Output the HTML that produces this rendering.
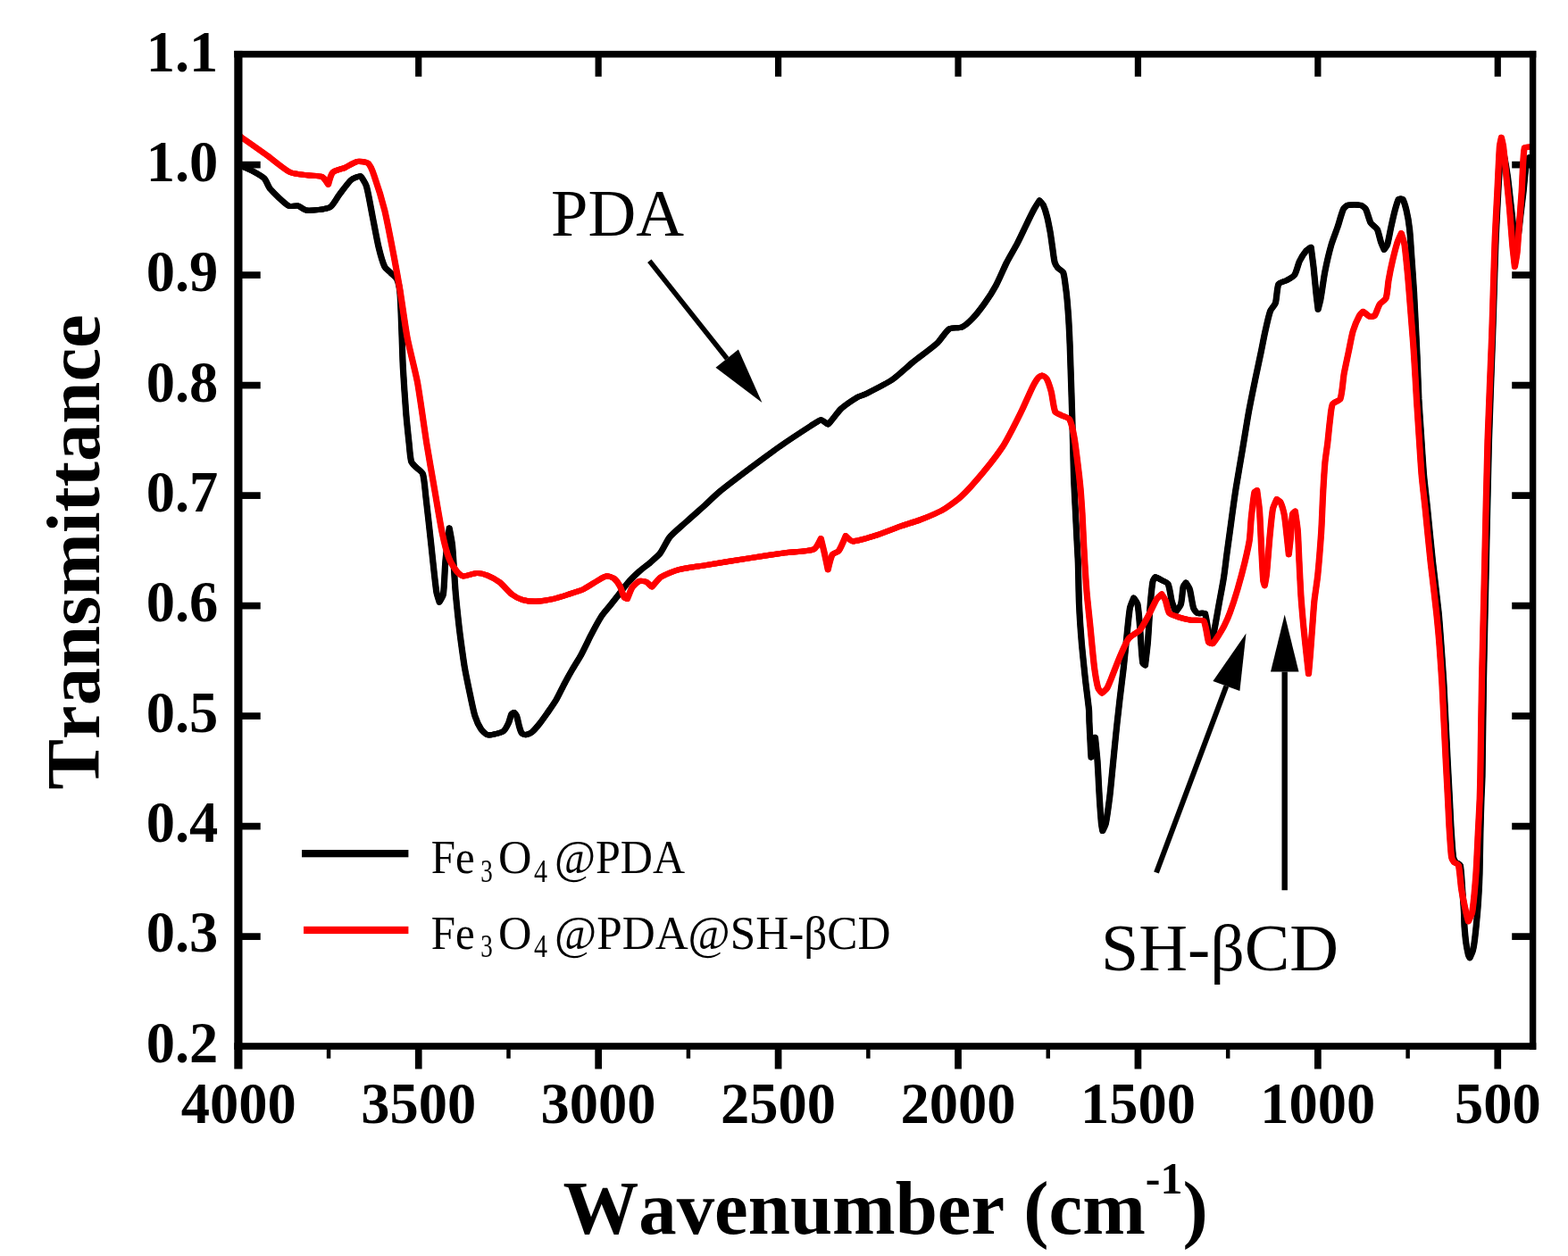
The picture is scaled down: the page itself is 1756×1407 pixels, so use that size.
<!DOCTYPE html>
<html lang="en"><head><meta charset="utf-8"><title>FTIR spectra</title>
<style>
html,body{margin:0;padding:0;background:#fff;}
body{width:1756px;height:1407px;overflow:hidden;}
svg{display:block;}
text{font-family:"Liberation Serif","DejaVu Serif",serif;fill:#000;font-kerning:none;font-variant-ligatures:none;}
.tk{font-weight:bold;font-size:64.5px;}
.ttl{font-weight:bold;font-size:84.8px;}
.ann{font-size:73px;}
.lg{font-size:53.5px;}
</style></head><body>
<svg width="1756" height="1407" viewBox="0 0 1756 1407" role="img" aria-label="FTIR transmittance spectra">
<rect x="0" y="0" width="1756" height="1407" fill="#ffffff"/>
<g fill="#000">
<rect x="464.88" y="1170" width="7.7" height="27.5"/>
<rect x="465.12" y="60" width="7.2" height="25.8"/>
<rect x="666.30" y="1170" width="7.7" height="27.5"/>
<rect x="666.55" y="60" width="7.2" height="25.8"/>
<rect x="867.73" y="1170" width="7.7" height="27.5"/>
<rect x="867.98" y="60" width="7.2" height="25.8"/>
<rect x="1069.15" y="1170" width="7.7" height="27.5"/>
<rect x="1069.40" y="60" width="7.2" height="25.8"/>
<rect x="1270.58" y="1170" width="7.7" height="27.5"/>
<rect x="1270.83" y="60" width="7.2" height="25.8"/>
<rect x="1472.00" y="1170" width="7.7" height="27.5"/>
<rect x="1472.25" y="60" width="7.2" height="25.8"/>
<rect x="1673.42" y="1170" width="7.7" height="27.5"/>
<rect x="1673.67" y="60" width="7.2" height="25.8"/>
<rect x="365.81" y="1170" width="4.5" height="15.7"/>
<rect x="567.24" y="1170" width="4.5" height="15.7"/>
<rect x="768.66" y="1170" width="4.5" height="15.7"/>
<rect x="970.09" y="1170" width="4.5" height="15.7"/>
<rect x="1171.51" y="1170" width="4.5" height="15.7"/>
<rect x="1372.94" y="1170" width="4.5" height="15.7"/>
<rect x="1574.36" y="1170" width="4.5" height="15.7"/>
<rect x="266" y="180.75" width="25.7" height="7.7"/>
<rect x="1693.2" y="180.75" width="24" height="7.7"/>
<rect x="266" y="304.25" width="25.7" height="7.7"/>
<rect x="1693.2" y="304.25" width="24" height="7.7"/>
<rect x="266" y="427.75" width="25.7" height="7.7"/>
<rect x="1693.2" y="427.75" width="24" height="7.7"/>
<rect x="266" y="551.25" width="25.7" height="7.7"/>
<rect x="1693.2" y="551.25" width="24" height="7.7"/>
<rect x="266" y="674.75" width="25.7" height="7.7"/>
<rect x="1693.2" y="674.75" width="24" height="7.7"/>
<rect x="266" y="798.25" width="25.7" height="7.7"/>
<rect x="1693.2" y="798.25" width="24" height="7.7"/>
<rect x="266" y="921.75" width="25.7" height="7.7"/>
<rect x="1693.2" y="921.75" width="24" height="7.7"/>
<rect x="266" y="1045.25" width="25.7" height="7.7"/>
<rect x="1693.2" y="1045.25" width="24" height="7.7"/>
</g>
<g fill="none" stroke="#000" stroke-width="6.2" stroke-linejoin="round">
<path transform="translate(-0.5,0)" d="M266.0,185.2C266.0,185.2 269.4,185.8 270.3,186.1C273.0,187.1 279.7,190.0 282.2,191.3C285.3,193.0 293.4,197.3 295.9,199.8C298.0,201.9 300.7,209.5 302.7,211.8C306.8,216.4 318.0,227.4 323.2,230.6C325.1,231.8 331.3,230.1 333.5,230.6C335.9,231.2 341.2,235.6 343.7,235.7C349.4,236.0 364.2,234.7 369.3,232.3C372.7,230.7 377.3,221.6 379.6,218.6C382.6,214.8 389.7,204.7 393.3,201.5C395.1,199.9 402.6,196.8 403.5,197.2C404.5,197.6 409.5,205.6 410.3,208.3C412.5,215.6 415.7,235.0 417.2,242.5C418.7,250.0 422.2,269.2 424.0,276.7C425.2,281.7 428.6,294.3 430.8,298.9C431.7,300.8 436.2,304.2 437.7,305.7C439.2,307.2 443.6,310.7 444.5,312.6C445.9,315.8 447.6,324.5 447.9,328.0C448.8,337.2 449.4,360.8 449.8,370.0C450.2,379.1 450.8,402.2 451.3,411.3C451.9,422.6 453.8,451.2 454.7,462.5C455.3,470.0 457.3,489.2 458.1,496.7C458.6,501.2 459.3,512.9 460.7,517.2C461.3,519.1 465.2,522.6 466.6,524.0C468.1,525.6 472.9,528.9 473.5,530.9C475.2,536.3 476.2,550.9 476.9,556.5C478.2,567.2 481.1,594.3 482.3,605.0C483.7,617.6 486.9,649.9 488.7,662.5C489.1,665.2 492.1,674.5 492.1,674.5C492.1,674.5 496.1,668.0 496.4,665.9C497.6,657.7 498.1,636.6 498.9,628.3C499.6,620.2 503.2,591.6 503.2,591.6C503.2,591.6 506.2,606.9 506.6,611.3C507.7,622.5 509.2,651.2 510.1,662.5C510.7,670.0 512.7,689.2 513.5,696.7C514.2,703.2 516.3,719.6 517.2,726.0C517.9,731.0 519.6,743.6 520.5,748.5C521.6,754.8 524.9,770.7 526.2,776.9C527.4,782.4 530.2,796.6 531.9,802.0C533.0,805.4 536.7,813.8 538.7,816.8C539.8,818.5 543.7,822.4 545.6,823.1C547.2,823.7 551.8,822.9 553.5,822.5C555.8,822.0 561.9,820.6 563.8,819.1C565.7,817.6 568.5,812.1 569.5,810.0C570.5,807.8 571.8,801.8 572.9,799.7C573.2,799.1 575.5,797.9 575.7,798.0C576.0,798.1 578.2,801.0 578.6,802.0C579.5,804.4 580.7,810.9 581.4,813.4C581.9,815.2 583.2,820.0 584.3,821.4C584.9,822.2 587.7,823.2 588.8,823.1C590.4,822.9 594.4,821.2 595.7,820.2C598.0,818.3 602.9,812.4 604.8,810.0C606.9,807.3 611.9,800.2 613.9,797.4C616.0,794.4 621.2,786.9 623.0,783.8C625.2,780.0 630.0,769.9 632.1,766.0C634.0,762.3 639.1,753.1 641.2,749.5C643.2,746.0 648.7,737.4 650.6,733.9C653.3,729.0 659.4,716.1 662.0,711.1C664.4,706.5 670.6,694.9 673.4,690.6C675.1,687.9 680.5,681.7 682.5,679.2C684.5,676.7 689.6,670.3 691.6,667.8C694.1,664.6 700.3,656.1 703.0,653.0C705.8,649.8 713.6,642.2 716.7,639.4C719.1,637.2 725.7,632.4 728.1,630.3C730.7,628.0 737.4,622.2 739.5,619.5C742.2,616.0 747.0,605.5 749.8,602.0C752.8,598.2 762.2,590.2 765.8,587.0C771.0,582.3 784.5,570.4 789.7,565.7C793.2,562.5 801.9,554.0 805.6,551.0C812.9,545.0 832.1,530.5 839.7,524.8C847.2,519.2 866.2,505.0 873.9,499.7C881.3,494.5 900.5,481.9 908.1,477.0C910.5,475.4 917.4,470.5 919.5,470.3C921.0,470.2 926.7,475.6 927.4,475.5C928.1,475.4 931.9,470.0 933.2,468.5C935.2,466.1 939.9,459.6 942.2,457.6C945.8,454.5 955.9,447.6 960.0,445.1C961.8,444.0 967.2,442.5 969.1,441.5C975.8,438.1 992.8,429.7 999.0,425.5C1004.5,421.8 1016.8,410.2 1022.0,406.0C1028.0,401.2 1043.8,389.7 1049.5,384.5C1052.9,381.3 1059.3,370.9 1063.2,368.3C1065.7,366.6 1074.1,367.8 1076.9,366.6C1080.0,365.3 1086.5,359.6 1088.8,357.2C1092.1,353.7 1099.7,344.0 1102.5,340.1C1105.6,335.8 1112.9,324.4 1115.4,319.7C1118.4,314.2 1124.6,299.6 1127.4,294.0C1129.8,289.2 1136.8,277.4 1139.3,272.6C1141.7,268.0 1147.3,256.0 1149.6,251.3C1151.4,247.5 1156.1,237.9 1158.1,234.2C1159.3,232.0 1164.1,224.6 1164.1,224.6C1164.1,224.6 1167.8,228.5 1168.4,229.9C1169.7,232.6 1171.9,239.8 1172.6,242.7C1173.6,246.4 1175.4,256.0 1176.1,259.8C1176.8,263.5 1178.0,273.1 1178.6,276.9C1179.2,280.7 1180.2,290.3 1181.2,294.0C1181.6,295.5 1183.6,298.8 1184.6,300.0C1185.7,301.3 1189.9,303.5 1190.6,305.1C1191.9,308.1 1192.7,316.5 1193.2,319.7C1193.7,323.1 1194.7,331.6 1195.0,335.0C1195.4,339.1 1196.2,349.7 1196.5,353.8C1197.0,361.3 1197.9,380.4 1198.2,387.9C1198.6,399.2 1199.5,427.9 1199.9,439.2C1200.1,445.6 1200.6,461.9 1200.8,468.3C1201.0,475.8 1201.5,495.0 1201.7,502.5C1201.9,510.0 1202.3,529.2 1202.6,536.7C1202.9,544.2 1203.9,563.4 1204.3,570.9C1204.7,578.4 1205.6,597.5 1206.0,605.0C1206.3,610.5 1207.1,624.5 1207.3,630.0C1207.7,640.3 1208.0,666.6 1208.5,676.9C1208.9,686.3 1210.5,710.3 1211.3,719.7C1212.1,729.1 1214.6,753.0 1215.6,762.4C1216.4,769.6 1218.8,787.8 1219.5,795.0C1219.8,798.0 1219.8,805.5 1219.9,808.5C1220.2,814.7 1221.0,830.7 1221.3,836.9C1221.4,839.4 1222.0,848.3 1222.0,848.3C1222.0,848.3 1226.5,826.0 1226.5,826.0C1226.5,826.0 1228.5,846.3 1229.0,852.0C1229.2,854.9 1229.6,862.5 1229.8,865.4C1230.1,871.7 1230.9,887.6 1231.3,893.9C1231.7,900.2 1232.8,916.1 1233.4,922.4C1233.6,924.3 1234.8,930.9 1234.8,930.9C1234.8,930.9 1238.0,924.4 1238.4,922.4C1239.7,916.2 1241.8,900.2 1242.6,893.9C1243.4,887.6 1244.9,871.7 1245.5,865.4C1246.1,859.1 1247.7,843.2 1248.3,836.9C1248.9,830.7 1250.5,814.7 1251.2,808.5C1251.8,803.0 1253.4,789.2 1254.0,783.7C1254.9,775.9 1257.4,755.9 1258.3,748.1C1259.2,740.3 1261.1,720.3 1261.9,712.5C1262.6,705.6 1264.2,688.0 1265.4,681.2C1265.9,678.6 1269.7,669.8 1269.7,669.8C1269.7,669.8 1273.6,675.2 1274.0,677.0C1275.2,683.2 1276.3,699.1 1276.8,705.4C1277.5,713.5 1278.5,734.3 1279.7,742.4C1279.8,743.3 1282.5,745.3 1282.5,745.3C1282.5,745.3 1284.9,725.3 1285.4,719.7C1286.2,710.3 1287.4,686.4 1288.2,677.0C1288.7,671.3 1290.0,656.9 1291.0,651.3C1291.2,650.0 1293.5,646.4 1293.9,646.3C1294.4,646.2 1299.5,649.0 1301.0,649.9C1302.6,650.8 1307.3,652.6 1308.1,654.2C1310.0,658.2 1311.2,669.8 1312.4,674.1C1313.1,676.7 1316.7,685.5 1316.7,685.5C1316.7,685.5 1321.8,679.2 1322.4,677.0C1323.7,672.7 1324.2,661.3 1325.2,657.0C1325.5,655.9 1328.1,652.7 1328.1,652.7C1328.1,652.7 1331.8,658.1 1332.3,659.9C1333.7,664.5 1335.1,676.6 1336.6,681.2C1337.1,682.7 1339.6,686.3 1340.9,686.9C1342.4,687.6 1349.0,686.2 1349.4,686.9C1350.5,688.9 1352.5,705.0 1354.0,710.0C1354.4,711.5 1358.0,716.0 1358.0,716.0C1358.0,716.0 1360.4,703.5 1361.0,700.0C1361.9,694.9 1364.2,682.0 1365.1,676.9C1366.3,670.3 1369.5,653.6 1370.5,647.0C1371.4,641.1 1373.2,625.9 1374.0,620.0C1375.0,612.7 1377.5,594.3 1378.5,587.0C1379.7,578.1 1382.8,555.5 1384.2,546.6C1385.7,537.2 1389.8,513.3 1391.4,503.9C1393.0,494.5 1396.8,470.6 1398.5,461.2C1399.9,453.3 1404.0,433.4 1405.6,425.6C1407.0,418.6 1410.9,401.0 1412.3,394.0C1413.4,388.9 1415.8,375.9 1417.0,370.8C1418.1,365.8 1420.9,352.9 1422.7,348.1C1423.5,346.0 1427.7,341.7 1428.4,339.5C1429.8,335.0 1430.1,321.8 1431.9,318.2C1432.8,316.5 1439.2,315.0 1441.2,313.9C1443.2,312.8 1448.5,310.1 1449.7,308.2C1451.7,305.1 1453.8,295.8 1455.4,292.5C1456.7,289.8 1460.6,283.5 1462.5,281.2C1463.5,280.0 1468.2,276.9 1468.2,276.9C1468.2,276.9 1470.5,294.7 1471.1,299.7C1471.8,305.9 1473.2,321.9 1473.9,328.1C1474.3,332.2 1476.1,346.6 1476.1,346.6C1476.1,346.6 1478.4,337.8 1478.9,335.3C1480.2,328.4 1482.5,310.8 1483.9,303.9C1485.2,297.3 1489.1,280.5 1491.0,274.0C1492.3,269.5 1496.6,258.5 1498.1,254.1C1499.6,249.7 1502.5,238.4 1504.5,234.2C1505.1,232.9 1508.1,230.2 1509.5,229.9C1512.6,229.2 1520.7,229.2 1523.8,229.9C1525.3,230.2 1528.7,232.8 1529.5,234.2C1531.3,237.4 1533.3,246.6 1535.1,249.8C1536.2,251.7 1541.3,254.9 1542.3,256.9C1543.8,259.8 1545.4,268.1 1546.5,271.2C1547.2,273.1 1550.1,279.7 1550.1,279.7C1550.1,279.7 1553.3,275.4 1553.7,274.0C1555.0,269.7 1556.9,258.5 1557.9,254.1C1558.8,250.0 1561.1,239.6 1562.2,235.6C1563.0,232.7 1565.6,224.2 1566.5,222.8C1566.8,222.4 1570.4,222.4 1570.7,222.8C1571.6,224.2 1574.3,232.7 1575.0,235.6C1576.1,240.2 1578.1,252.2 1578.6,256.9C1579.3,263.1 1580.3,279.1 1580.7,285.4C1581.4,294.8 1583.0,318.7 1583.6,328.1C1584.1,337.5 1585.2,361.4 1585.7,370.8C1586.0,377.1 1586.8,393.0 1587.1,399.3C1587.5,409.8 1588.4,436.4 1588.9,446.9C1589.4,456.3 1591.1,480.3 1591.7,489.7C1592.3,499.1 1593.8,523.0 1594.6,532.4C1595.4,541.3 1598.0,563.8 1598.9,572.7C1600.2,585.2 1603.2,617.2 1604.6,629.7C1606.0,642.2 1609.9,674.1 1611.2,686.6C1612.0,694.5 1613.4,714.8 1614.0,722.7C1614.7,732.1 1616.3,756.0 1616.9,765.4C1617.4,774.8 1618.5,798.7 1619.0,808.1C1619.5,817.5 1620.6,841.4 1621.1,850.8C1621.6,860.3 1622.9,884.6 1623.4,894.1C1623.8,901.6 1624.6,920.7 1625.1,928.2C1625.6,935.3 1626.6,953.5 1627.6,960.6C1627.8,961.8 1629.4,964.8 1630.2,965.7C1631.1,966.7 1635.0,967.9 1635.3,969.1C1636.6,974.5 1637.2,990.4 1637.7,996.4C1638.1,1002.0 1639.2,1016.4 1639.5,1022.0C1639.7,1025.7 1639.8,1035.3 1640.1,1039.0C1640.4,1042.8 1641.3,1052.4 1641.8,1056.1C1642.2,1059.1 1643.7,1066.7 1644.4,1069.7C1644.6,1070.5 1646.1,1073.1 1646.1,1073.1C1646.1,1073.1 1649.0,1066.6 1649.5,1064.6C1650.4,1060.9 1651.7,1051.4 1652.1,1047.6C1652.8,1042.0 1654.1,1027.6 1654.6,1022.0C1655.1,1016.4 1656.0,1002.0 1656.3,996.4C1656.5,992.7 1656.9,983.1 1657.0,979.4C1657.3,968.1 1657.7,939.5 1658.0,928.2C1658.2,920.7 1658.7,901.6 1659.0,894.1C1659.2,888.8 1659.9,875.3 1660.0,870.0C1660.4,846.2 1661.1,785.8 1661.5,762.0C1662.0,736.7 1663.4,672.3 1664.0,647.0C1664.8,613.1 1666.5,526.9 1667.5,493.0C1668.2,467.7 1670.7,403.3 1671.6,378.0C1672.1,364.7 1673.1,330.9 1673.5,317.6C1673.9,306.3 1674.7,277.7 1675.2,266.4C1675.7,255.2 1677.2,226.5 1677.8,215.3C1678.3,206.4 1679.5,183.8 1680.4,175.0C1680.6,173.4 1682.4,168.0 1682.4,168.0C1682.4,168.0 1684.3,173.4 1684.6,175.0C1685.6,180.1 1687.8,193.1 1688.5,198.2C1689.5,205.7 1691.5,224.8 1692.4,232.3C1693.1,238.8 1694.8,255.5 1695.8,262.0C1696.1,263.8 1698.0,270.0 1698.0,270.0C1698.0,270.0 1700.2,263.8 1700.5,262.0C1701.3,257.2 1702.4,244.8 1703.0,240.0C1703.6,234.6 1705.4,220.7 1706.0,215.3C1706.6,209.7 1707.8,195.6 1708.5,190.0C1708.8,187.3 1709.6,180.3 1710.5,178.0C1710.8,177.2 1714.0,176.0 1714.0,176.0"/>
<path transform="translate(0,0)" d="M266.0,185.2C266.0,185.2 269.4,185.8 270.3,186.1C273.0,187.1 279.7,190.0 282.2,191.3C285.3,193.0 293.4,197.3 295.9,199.8C298.0,201.9 300.7,209.5 302.7,211.8C306.8,216.4 318.0,227.4 323.2,230.6C325.1,231.8 331.3,230.1 333.5,230.6C335.9,231.2 341.2,235.6 343.7,235.7C349.4,236.0 364.2,234.7 369.3,232.3C372.7,230.7 377.3,221.6 379.6,218.6C382.6,214.8 389.7,204.7 393.3,201.5C395.1,199.9 402.6,196.8 403.5,197.2C404.5,197.6 409.5,205.6 410.3,208.3C412.5,215.6 415.7,235.0 417.2,242.5C418.7,250.0 422.2,269.2 424.0,276.7C425.2,281.7 428.6,294.3 430.8,298.9C431.7,300.8 436.2,304.2 437.7,305.7C439.2,307.2 443.6,310.7 444.5,312.6C445.9,315.8 447.6,324.5 447.9,328.0C448.8,337.2 449.4,360.8 449.8,370.0C450.2,379.1 450.8,402.2 451.3,411.3C451.9,422.6 453.8,451.2 454.7,462.5C455.3,470.0 457.3,489.2 458.1,496.7C458.6,501.2 459.3,512.9 460.7,517.2C461.3,519.1 465.2,522.6 466.6,524.0C468.1,525.6 472.9,528.9 473.5,530.9C475.2,536.3 476.2,550.9 476.9,556.5C478.2,567.2 481.1,594.3 482.3,605.0C483.7,617.6 486.9,649.9 488.7,662.5C489.1,665.2 492.1,674.5 492.1,674.5C492.1,674.5 496.1,668.0 496.4,665.9C497.6,657.7 498.1,636.6 498.9,628.3C499.6,620.2 503.2,591.6 503.2,591.6C503.2,591.6 506.2,606.9 506.6,611.3C507.7,622.5 509.2,651.2 510.1,662.5C510.7,670.0 512.7,689.2 513.5,696.7C514.2,703.2 516.3,719.6 517.2,726.0C517.9,731.0 519.6,743.6 520.5,748.5C521.6,754.8 524.9,770.7 526.2,776.9C527.4,782.4 530.2,796.6 531.9,802.0C533.0,805.4 536.7,813.8 538.7,816.8C539.8,818.5 543.7,822.4 545.6,823.1C547.2,823.7 551.8,822.9 553.5,822.5C555.8,822.0 561.9,820.6 563.8,819.1C565.7,817.6 568.5,812.1 569.5,810.0C570.5,807.8 571.8,801.8 572.9,799.7C573.2,799.1 575.5,797.9 575.7,798.0C576.0,798.1 578.2,801.0 578.6,802.0C579.5,804.4 580.7,810.9 581.4,813.4C581.9,815.2 583.2,820.0 584.3,821.4C584.9,822.2 587.7,823.2 588.8,823.1C590.4,822.9 594.4,821.2 595.7,820.2C598.0,818.3 602.9,812.4 604.8,810.0C606.9,807.3 611.9,800.2 613.9,797.4C616.0,794.4 621.2,786.9 623.0,783.8C625.2,780.0 630.0,769.9 632.1,766.0C634.0,762.3 639.1,753.1 641.2,749.5C643.2,746.0 648.7,737.4 650.6,733.9C653.3,729.0 659.4,716.1 662.0,711.1C664.4,706.5 670.6,694.9 673.4,690.6C675.1,687.9 680.5,681.7 682.5,679.2C684.5,676.7 689.6,670.3 691.6,667.8C694.1,664.6 700.3,656.1 703.0,653.0C705.8,649.8 713.6,642.2 716.7,639.4C719.1,637.2 725.7,632.4 728.1,630.3C730.7,628.0 737.4,622.2 739.5,619.5C742.2,616.0 747.0,605.5 749.8,602.0C752.8,598.2 762.2,590.2 765.8,587.0C771.0,582.3 784.5,570.4 789.7,565.7C793.2,562.5 801.9,554.0 805.6,551.0C812.9,545.0 832.1,530.5 839.7,524.8C847.2,519.2 866.2,505.0 873.9,499.7C881.3,494.5 900.5,481.9 908.1,477.0C910.5,475.4 917.4,470.5 919.5,470.3C921.0,470.2 926.7,475.6 927.4,475.5C928.1,475.4 931.9,470.0 933.2,468.5C935.2,466.1 939.9,459.6 942.2,457.6C945.8,454.5 955.9,447.6 960.0,445.1C961.8,444.0 967.2,442.5 969.1,441.5C975.8,438.1 992.8,429.7 999.0,425.5C1004.5,421.8 1016.8,410.2 1022.0,406.0C1028.0,401.2 1043.8,389.7 1049.5,384.5C1052.9,381.3 1059.3,370.9 1063.2,368.3C1065.7,366.6 1074.1,367.8 1076.9,366.6C1080.0,365.3 1086.5,359.6 1088.8,357.2C1092.1,353.7 1099.7,344.0 1102.5,340.1C1105.6,335.8 1112.9,324.4 1115.4,319.7C1118.4,314.2 1124.6,299.6 1127.4,294.0C1129.8,289.2 1136.8,277.4 1139.3,272.6C1141.7,268.0 1147.3,256.0 1149.6,251.3C1151.4,247.5 1156.1,237.9 1158.1,234.2C1159.3,232.0 1164.1,224.6 1164.1,224.6C1164.1,224.6 1167.8,228.5 1168.4,229.9C1169.7,232.6 1171.9,239.8 1172.6,242.7C1173.6,246.4 1175.4,256.0 1176.1,259.8C1176.8,263.5 1178.0,273.1 1178.6,276.9C1179.2,280.7 1180.2,290.3 1181.2,294.0C1181.6,295.5 1183.6,298.8 1184.6,300.0C1185.7,301.3 1189.9,303.5 1190.6,305.1C1191.9,308.1 1192.7,316.5 1193.2,319.7C1193.7,323.1 1194.7,331.6 1195.0,335.0C1195.4,339.1 1196.2,349.7 1196.5,353.8C1197.0,361.3 1197.9,380.4 1198.2,387.9C1198.6,399.2 1199.5,427.9 1199.9,439.2C1200.1,445.6 1200.6,461.9 1200.8,468.3C1201.0,475.8 1201.5,495.0 1201.7,502.5C1201.9,510.0 1202.3,529.2 1202.6,536.7C1202.9,544.2 1203.9,563.4 1204.3,570.9C1204.7,578.4 1205.6,597.5 1206.0,605.0C1206.3,610.5 1207.1,624.5 1207.3,630.0C1207.7,640.3 1208.0,666.6 1208.5,676.9C1208.9,686.3 1210.5,710.3 1211.3,719.7C1212.1,729.1 1214.6,753.0 1215.6,762.4C1216.4,769.6 1218.8,787.8 1219.5,795.0C1219.8,798.0 1219.8,805.5 1219.9,808.5C1220.2,814.7 1221.0,830.7 1221.3,836.9C1221.4,839.4 1222.0,848.3 1222.0,848.3C1222.0,848.3 1226.5,826.0 1226.5,826.0C1226.5,826.0 1228.5,846.3 1229.0,852.0C1229.2,854.9 1229.6,862.5 1229.8,865.4C1230.1,871.7 1230.9,887.6 1231.3,893.9C1231.7,900.2 1232.8,916.1 1233.4,922.4C1233.6,924.3 1234.8,930.9 1234.8,930.9C1234.8,930.9 1238.0,924.4 1238.4,922.4C1239.7,916.2 1241.8,900.2 1242.6,893.9C1243.4,887.6 1244.9,871.7 1245.5,865.4C1246.1,859.1 1247.7,843.2 1248.3,836.9C1248.9,830.7 1250.5,814.7 1251.2,808.5C1251.8,803.0 1253.4,789.2 1254.0,783.7C1254.9,775.9 1257.4,755.9 1258.3,748.1C1259.2,740.3 1261.1,720.3 1261.9,712.5C1262.6,705.6 1264.2,688.0 1265.4,681.2C1265.9,678.6 1269.7,669.8 1269.7,669.8C1269.7,669.8 1273.6,675.2 1274.0,677.0C1275.2,683.2 1276.3,699.1 1276.8,705.4C1277.5,713.5 1278.5,734.3 1279.7,742.4C1279.8,743.3 1282.5,745.3 1282.5,745.3C1282.5,745.3 1284.9,725.3 1285.4,719.7C1286.2,710.3 1287.4,686.4 1288.2,677.0C1288.7,671.3 1290.0,656.9 1291.0,651.3C1291.2,650.0 1293.5,646.4 1293.9,646.3C1294.4,646.2 1299.5,649.0 1301.0,649.9C1302.6,650.8 1307.3,652.6 1308.1,654.2C1310.0,658.2 1311.2,669.8 1312.4,674.1C1313.1,676.7 1316.7,685.5 1316.7,685.5C1316.7,685.5 1321.8,679.2 1322.4,677.0C1323.7,672.7 1324.2,661.3 1325.2,657.0C1325.5,655.9 1328.1,652.7 1328.1,652.7C1328.1,652.7 1331.8,658.1 1332.3,659.9C1333.7,664.5 1335.1,676.6 1336.6,681.2C1337.1,682.7 1339.6,686.3 1340.9,686.9C1342.4,687.6 1349.0,686.2 1349.4,686.9C1350.5,688.9 1352.5,705.0 1354.0,710.0C1354.4,711.5 1358.0,716.0 1358.0,716.0C1358.0,716.0 1360.4,703.5 1361.0,700.0C1361.9,694.9 1364.2,682.0 1365.1,676.9C1366.3,670.3 1369.5,653.6 1370.5,647.0C1371.4,641.1 1373.2,625.9 1374.0,620.0C1375.0,612.7 1377.5,594.3 1378.5,587.0C1379.7,578.1 1382.8,555.5 1384.2,546.6C1385.7,537.2 1389.8,513.3 1391.4,503.9C1393.0,494.5 1396.8,470.6 1398.5,461.2C1399.9,453.3 1404.0,433.4 1405.6,425.6C1407.0,418.6 1410.9,401.0 1412.3,394.0C1413.4,388.9 1415.8,375.9 1417.0,370.8C1418.1,365.8 1420.9,352.9 1422.7,348.1C1423.5,346.0 1427.7,341.7 1428.4,339.5C1429.8,335.0 1430.1,321.8 1431.9,318.2C1432.8,316.5 1439.2,315.0 1441.2,313.9C1443.2,312.8 1448.5,310.1 1449.7,308.2C1451.7,305.1 1453.8,295.8 1455.4,292.5C1456.7,289.8 1460.6,283.5 1462.5,281.2C1463.5,280.0 1468.2,276.9 1468.2,276.9C1468.2,276.9 1470.5,294.7 1471.1,299.7C1471.8,305.9 1473.2,321.9 1473.9,328.1C1474.3,332.2 1476.1,346.6 1476.1,346.6C1476.1,346.6 1478.4,337.8 1478.9,335.3C1480.2,328.4 1482.5,310.8 1483.9,303.9C1485.2,297.3 1489.1,280.5 1491.0,274.0C1492.3,269.5 1496.6,258.5 1498.1,254.1C1499.6,249.7 1502.5,238.4 1504.5,234.2C1505.1,232.9 1508.1,230.2 1509.5,229.9C1512.6,229.2 1520.7,229.2 1523.8,229.9C1525.3,230.2 1528.7,232.8 1529.5,234.2C1531.3,237.4 1533.3,246.6 1535.1,249.8C1536.2,251.7 1541.3,254.9 1542.3,256.9C1543.8,259.8 1545.4,268.1 1546.5,271.2C1547.2,273.1 1550.1,279.7 1550.1,279.7C1550.1,279.7 1553.3,275.4 1553.7,274.0C1555.0,269.7 1556.9,258.5 1557.9,254.1C1558.8,250.0 1561.1,239.6 1562.2,235.6C1563.0,232.7 1565.6,224.2 1566.5,222.8C1566.8,222.4 1570.4,222.4 1570.7,222.8C1571.6,224.2 1574.3,232.7 1575.0,235.6C1576.1,240.2 1578.1,252.2 1578.6,256.9C1579.3,263.1 1580.3,279.1 1580.7,285.4C1581.4,294.8 1583.0,318.7 1583.6,328.1C1584.1,337.5 1585.2,361.4 1585.7,370.8C1586.0,377.1 1586.8,393.0 1587.1,399.3C1587.5,409.8 1588.4,436.4 1588.9,446.9C1589.4,456.3 1591.1,480.3 1591.7,489.7C1592.3,499.1 1593.8,523.0 1594.6,532.4C1595.4,541.3 1598.0,563.8 1598.9,572.7C1600.2,585.2 1603.2,617.2 1604.6,629.7C1606.0,642.2 1609.9,674.1 1611.2,686.6C1612.0,694.5 1613.4,714.8 1614.0,722.7C1614.7,732.1 1616.3,756.0 1616.9,765.4C1617.4,774.8 1618.5,798.7 1619.0,808.1C1619.5,817.5 1620.6,841.4 1621.1,850.8C1621.6,860.3 1622.9,884.6 1623.4,894.1C1623.8,901.6 1624.6,920.7 1625.1,928.2C1625.6,935.3 1626.6,953.5 1627.6,960.6C1627.8,961.8 1629.4,964.8 1630.2,965.7C1631.1,966.7 1635.0,967.9 1635.3,969.1C1636.6,974.5 1637.2,990.4 1637.7,996.4C1638.1,1002.0 1639.2,1016.4 1639.5,1022.0C1639.7,1025.7 1639.8,1035.3 1640.1,1039.0C1640.4,1042.8 1641.3,1052.4 1641.8,1056.1C1642.2,1059.1 1643.7,1066.7 1644.4,1069.7C1644.6,1070.5 1646.1,1073.1 1646.1,1073.1C1646.1,1073.1 1649.0,1066.6 1649.5,1064.6C1650.4,1060.9 1651.7,1051.4 1652.1,1047.6C1652.8,1042.0 1654.1,1027.6 1654.6,1022.0C1655.1,1016.4 1656.0,1002.0 1656.3,996.4C1656.5,992.7 1656.9,983.1 1657.0,979.4C1657.3,968.1 1657.7,939.5 1658.0,928.2C1658.2,920.7 1658.7,901.6 1659.0,894.1C1659.2,888.8 1659.9,875.3 1660.0,870.0C1660.4,846.2 1661.1,785.8 1661.5,762.0C1662.0,736.7 1663.4,672.3 1664.0,647.0C1664.8,613.1 1666.5,526.9 1667.5,493.0C1668.2,467.7 1670.7,403.3 1671.6,378.0C1672.1,364.7 1673.1,330.9 1673.5,317.6C1673.9,306.3 1674.7,277.7 1675.2,266.4C1675.7,255.2 1677.2,226.5 1677.8,215.3C1678.3,206.4 1679.5,183.8 1680.4,175.0C1680.6,173.4 1682.4,168.0 1682.4,168.0C1682.4,168.0 1684.3,173.4 1684.6,175.0C1685.6,180.1 1687.8,193.1 1688.5,198.2C1689.5,205.7 1691.5,224.8 1692.4,232.3C1693.1,238.8 1694.8,255.5 1695.8,262.0C1696.1,263.8 1698.0,270.0 1698.0,270.0C1698.0,270.0 1700.2,263.8 1700.5,262.0C1701.3,257.2 1702.4,244.8 1703.0,240.0C1703.6,234.6 1705.4,220.7 1706.0,215.3C1706.6,209.7 1707.8,195.6 1708.5,190.0C1708.8,187.3 1709.6,180.3 1710.5,178.0C1710.8,177.2 1714.0,176.0 1714.0,176.0"/>
<path transform="translate(0.5,0)" d="M266.0,185.2C266.0,185.2 269.4,185.8 270.3,186.1C273.0,187.1 279.7,190.0 282.2,191.3C285.3,193.0 293.4,197.3 295.9,199.8C298.0,201.9 300.7,209.5 302.7,211.8C306.8,216.4 318.0,227.4 323.2,230.6C325.1,231.8 331.3,230.1 333.5,230.6C335.9,231.2 341.2,235.6 343.7,235.7C349.4,236.0 364.2,234.7 369.3,232.3C372.7,230.7 377.3,221.6 379.6,218.6C382.6,214.8 389.7,204.7 393.3,201.5C395.1,199.9 402.6,196.8 403.5,197.2C404.5,197.6 409.5,205.6 410.3,208.3C412.5,215.6 415.7,235.0 417.2,242.5C418.7,250.0 422.2,269.2 424.0,276.7C425.2,281.7 428.6,294.3 430.8,298.9C431.7,300.8 436.2,304.2 437.7,305.7C439.2,307.2 443.6,310.7 444.5,312.6C445.9,315.8 447.6,324.5 447.9,328.0C448.8,337.2 449.4,360.8 449.8,370.0C450.2,379.1 450.8,402.2 451.3,411.3C451.9,422.6 453.8,451.2 454.7,462.5C455.3,470.0 457.3,489.2 458.1,496.7C458.6,501.2 459.3,512.9 460.7,517.2C461.3,519.1 465.2,522.6 466.6,524.0C468.1,525.6 472.9,528.9 473.5,530.9C475.2,536.3 476.2,550.9 476.9,556.5C478.2,567.2 481.1,594.3 482.3,605.0C483.7,617.6 486.9,649.9 488.7,662.5C489.1,665.2 492.1,674.5 492.1,674.5C492.1,674.5 496.1,668.0 496.4,665.9C497.6,657.7 498.1,636.6 498.9,628.3C499.6,620.2 503.2,591.6 503.2,591.6C503.2,591.6 506.2,606.9 506.6,611.3C507.7,622.5 509.2,651.2 510.1,662.5C510.7,670.0 512.7,689.2 513.5,696.7C514.2,703.2 516.3,719.6 517.2,726.0C517.9,731.0 519.6,743.6 520.5,748.5C521.6,754.8 524.9,770.7 526.2,776.9C527.4,782.4 530.2,796.6 531.9,802.0C533.0,805.4 536.7,813.8 538.7,816.8C539.8,818.5 543.7,822.4 545.6,823.1C547.2,823.7 551.8,822.9 553.5,822.5C555.8,822.0 561.9,820.6 563.8,819.1C565.7,817.6 568.5,812.1 569.5,810.0C570.5,807.8 571.8,801.8 572.9,799.7C573.2,799.1 575.5,797.9 575.7,798.0C576.0,798.1 578.2,801.0 578.6,802.0C579.5,804.4 580.7,810.9 581.4,813.4C581.9,815.2 583.2,820.0 584.3,821.4C584.9,822.2 587.7,823.2 588.8,823.1C590.4,822.9 594.4,821.2 595.7,820.2C598.0,818.3 602.9,812.4 604.8,810.0C606.9,807.3 611.9,800.2 613.9,797.4C616.0,794.4 621.2,786.9 623.0,783.8C625.2,780.0 630.0,769.9 632.1,766.0C634.0,762.3 639.1,753.1 641.2,749.5C643.2,746.0 648.7,737.4 650.6,733.9C653.3,729.0 659.4,716.1 662.0,711.1C664.4,706.5 670.6,694.9 673.4,690.6C675.1,687.9 680.5,681.7 682.5,679.2C684.5,676.7 689.6,670.3 691.6,667.8C694.1,664.6 700.3,656.1 703.0,653.0C705.8,649.8 713.6,642.2 716.7,639.4C719.1,637.2 725.7,632.4 728.1,630.3C730.7,628.0 737.4,622.2 739.5,619.5C742.2,616.0 747.0,605.5 749.8,602.0C752.8,598.2 762.2,590.2 765.8,587.0C771.0,582.3 784.5,570.4 789.7,565.7C793.2,562.5 801.9,554.0 805.6,551.0C812.9,545.0 832.1,530.5 839.7,524.8C847.2,519.2 866.2,505.0 873.9,499.7C881.3,494.5 900.5,481.9 908.1,477.0C910.5,475.4 917.4,470.5 919.5,470.3C921.0,470.2 926.7,475.6 927.4,475.5C928.1,475.4 931.9,470.0 933.2,468.5C935.2,466.1 939.9,459.6 942.2,457.6C945.8,454.5 955.9,447.6 960.0,445.1C961.8,444.0 967.2,442.5 969.1,441.5C975.8,438.1 992.8,429.7 999.0,425.5C1004.5,421.8 1016.8,410.2 1022.0,406.0C1028.0,401.2 1043.8,389.7 1049.5,384.5C1052.9,381.3 1059.3,370.9 1063.2,368.3C1065.7,366.6 1074.1,367.8 1076.9,366.6C1080.0,365.3 1086.5,359.6 1088.8,357.2C1092.1,353.7 1099.7,344.0 1102.5,340.1C1105.6,335.8 1112.9,324.4 1115.4,319.7C1118.4,314.2 1124.6,299.6 1127.4,294.0C1129.8,289.2 1136.8,277.4 1139.3,272.6C1141.7,268.0 1147.3,256.0 1149.6,251.3C1151.4,247.5 1156.1,237.9 1158.1,234.2C1159.3,232.0 1164.1,224.6 1164.1,224.6C1164.1,224.6 1167.8,228.5 1168.4,229.9C1169.7,232.6 1171.9,239.8 1172.6,242.7C1173.6,246.4 1175.4,256.0 1176.1,259.8C1176.8,263.5 1178.0,273.1 1178.6,276.9C1179.2,280.7 1180.2,290.3 1181.2,294.0C1181.6,295.5 1183.6,298.8 1184.6,300.0C1185.7,301.3 1189.9,303.5 1190.6,305.1C1191.9,308.1 1192.7,316.5 1193.2,319.7C1193.7,323.1 1194.7,331.6 1195.0,335.0C1195.4,339.1 1196.2,349.7 1196.5,353.8C1197.0,361.3 1197.9,380.4 1198.2,387.9C1198.6,399.2 1199.5,427.9 1199.9,439.2C1200.1,445.6 1200.6,461.9 1200.8,468.3C1201.0,475.8 1201.5,495.0 1201.7,502.5C1201.9,510.0 1202.3,529.2 1202.6,536.7C1202.9,544.2 1203.9,563.4 1204.3,570.9C1204.7,578.4 1205.6,597.5 1206.0,605.0C1206.3,610.5 1207.1,624.5 1207.3,630.0C1207.7,640.3 1208.0,666.6 1208.5,676.9C1208.9,686.3 1210.5,710.3 1211.3,719.7C1212.1,729.1 1214.6,753.0 1215.6,762.4C1216.4,769.6 1218.8,787.8 1219.5,795.0C1219.8,798.0 1219.8,805.5 1219.9,808.5C1220.2,814.7 1221.0,830.7 1221.3,836.9C1221.4,839.4 1222.0,848.3 1222.0,848.3C1222.0,848.3 1226.5,826.0 1226.5,826.0C1226.5,826.0 1228.5,846.3 1229.0,852.0C1229.2,854.9 1229.6,862.5 1229.8,865.4C1230.1,871.7 1230.9,887.6 1231.3,893.9C1231.7,900.2 1232.8,916.1 1233.4,922.4C1233.6,924.3 1234.8,930.9 1234.8,930.9C1234.8,930.9 1238.0,924.4 1238.4,922.4C1239.7,916.2 1241.8,900.2 1242.6,893.9C1243.4,887.6 1244.9,871.7 1245.5,865.4C1246.1,859.1 1247.7,843.2 1248.3,836.9C1248.9,830.7 1250.5,814.7 1251.2,808.5C1251.8,803.0 1253.4,789.2 1254.0,783.7C1254.9,775.9 1257.4,755.9 1258.3,748.1C1259.2,740.3 1261.1,720.3 1261.9,712.5C1262.6,705.6 1264.2,688.0 1265.4,681.2C1265.9,678.6 1269.7,669.8 1269.7,669.8C1269.7,669.8 1273.6,675.2 1274.0,677.0C1275.2,683.2 1276.3,699.1 1276.8,705.4C1277.5,713.5 1278.5,734.3 1279.7,742.4C1279.8,743.3 1282.5,745.3 1282.5,745.3C1282.5,745.3 1284.9,725.3 1285.4,719.7C1286.2,710.3 1287.4,686.4 1288.2,677.0C1288.7,671.3 1290.0,656.9 1291.0,651.3C1291.2,650.0 1293.5,646.4 1293.9,646.3C1294.4,646.2 1299.5,649.0 1301.0,649.9C1302.6,650.8 1307.3,652.6 1308.1,654.2C1310.0,658.2 1311.2,669.8 1312.4,674.1C1313.1,676.7 1316.7,685.5 1316.7,685.5C1316.7,685.5 1321.8,679.2 1322.4,677.0C1323.7,672.7 1324.2,661.3 1325.2,657.0C1325.5,655.9 1328.1,652.7 1328.1,652.7C1328.1,652.7 1331.8,658.1 1332.3,659.9C1333.7,664.5 1335.1,676.6 1336.6,681.2C1337.1,682.7 1339.6,686.3 1340.9,686.9C1342.4,687.6 1349.0,686.2 1349.4,686.9C1350.5,688.9 1352.5,705.0 1354.0,710.0C1354.4,711.5 1358.0,716.0 1358.0,716.0C1358.0,716.0 1360.4,703.5 1361.0,700.0C1361.9,694.9 1364.2,682.0 1365.1,676.9C1366.3,670.3 1369.5,653.6 1370.5,647.0C1371.4,641.1 1373.2,625.9 1374.0,620.0C1375.0,612.7 1377.5,594.3 1378.5,587.0C1379.7,578.1 1382.8,555.5 1384.2,546.6C1385.7,537.2 1389.8,513.3 1391.4,503.9C1393.0,494.5 1396.8,470.6 1398.5,461.2C1399.9,453.3 1404.0,433.4 1405.6,425.6C1407.0,418.6 1410.9,401.0 1412.3,394.0C1413.4,388.9 1415.8,375.9 1417.0,370.8C1418.1,365.8 1420.9,352.9 1422.7,348.1C1423.5,346.0 1427.7,341.7 1428.4,339.5C1429.8,335.0 1430.1,321.8 1431.9,318.2C1432.8,316.5 1439.2,315.0 1441.2,313.9C1443.2,312.8 1448.5,310.1 1449.7,308.2C1451.7,305.1 1453.8,295.8 1455.4,292.5C1456.7,289.8 1460.6,283.5 1462.5,281.2C1463.5,280.0 1468.2,276.9 1468.2,276.9C1468.2,276.9 1470.5,294.7 1471.1,299.7C1471.8,305.9 1473.2,321.9 1473.9,328.1C1474.3,332.2 1476.1,346.6 1476.1,346.6C1476.1,346.6 1478.4,337.8 1478.9,335.3C1480.2,328.4 1482.5,310.8 1483.9,303.9C1485.2,297.3 1489.1,280.5 1491.0,274.0C1492.3,269.5 1496.6,258.5 1498.1,254.1C1499.6,249.7 1502.5,238.4 1504.5,234.2C1505.1,232.9 1508.1,230.2 1509.5,229.9C1512.6,229.2 1520.7,229.2 1523.8,229.9C1525.3,230.2 1528.7,232.8 1529.5,234.2C1531.3,237.4 1533.3,246.6 1535.1,249.8C1536.2,251.7 1541.3,254.9 1542.3,256.9C1543.8,259.8 1545.4,268.1 1546.5,271.2C1547.2,273.1 1550.1,279.7 1550.1,279.7C1550.1,279.7 1553.3,275.4 1553.7,274.0C1555.0,269.7 1556.9,258.5 1557.9,254.1C1558.8,250.0 1561.1,239.6 1562.2,235.6C1563.0,232.7 1565.6,224.2 1566.5,222.8C1566.8,222.4 1570.4,222.4 1570.7,222.8C1571.6,224.2 1574.3,232.7 1575.0,235.6C1576.1,240.2 1578.1,252.2 1578.6,256.9C1579.3,263.1 1580.3,279.1 1580.7,285.4C1581.4,294.8 1583.0,318.7 1583.6,328.1C1584.1,337.5 1585.2,361.4 1585.7,370.8C1586.0,377.1 1586.8,393.0 1587.1,399.3C1587.5,409.8 1588.4,436.4 1588.9,446.9C1589.4,456.3 1591.1,480.3 1591.7,489.7C1592.3,499.1 1593.8,523.0 1594.6,532.4C1595.4,541.3 1598.0,563.8 1598.9,572.7C1600.2,585.2 1603.2,617.2 1604.6,629.7C1606.0,642.2 1609.9,674.1 1611.2,686.6C1612.0,694.5 1613.4,714.8 1614.0,722.7C1614.7,732.1 1616.3,756.0 1616.9,765.4C1617.4,774.8 1618.5,798.7 1619.0,808.1C1619.5,817.5 1620.6,841.4 1621.1,850.8C1621.6,860.3 1622.9,884.6 1623.4,894.1C1623.8,901.6 1624.6,920.7 1625.1,928.2C1625.6,935.3 1626.6,953.5 1627.6,960.6C1627.8,961.8 1629.4,964.8 1630.2,965.7C1631.1,966.7 1635.0,967.9 1635.3,969.1C1636.6,974.5 1637.2,990.4 1637.7,996.4C1638.1,1002.0 1639.2,1016.4 1639.5,1022.0C1639.7,1025.7 1639.8,1035.3 1640.1,1039.0C1640.4,1042.8 1641.3,1052.4 1641.8,1056.1C1642.2,1059.1 1643.7,1066.7 1644.4,1069.7C1644.6,1070.5 1646.1,1073.1 1646.1,1073.1C1646.1,1073.1 1649.0,1066.6 1649.5,1064.6C1650.4,1060.9 1651.7,1051.4 1652.1,1047.6C1652.8,1042.0 1654.1,1027.6 1654.6,1022.0C1655.1,1016.4 1656.0,1002.0 1656.3,996.4C1656.5,992.7 1656.9,983.1 1657.0,979.4C1657.3,968.1 1657.7,939.5 1658.0,928.2C1658.2,920.7 1658.7,901.6 1659.0,894.1C1659.2,888.8 1659.9,875.3 1660.0,870.0C1660.4,846.2 1661.1,785.8 1661.5,762.0C1662.0,736.7 1663.4,672.3 1664.0,647.0C1664.8,613.1 1666.5,526.9 1667.5,493.0C1668.2,467.7 1670.7,403.3 1671.6,378.0C1672.1,364.7 1673.1,330.9 1673.5,317.6C1673.9,306.3 1674.7,277.7 1675.2,266.4C1675.7,255.2 1677.2,226.5 1677.8,215.3C1678.3,206.4 1679.5,183.8 1680.4,175.0C1680.6,173.4 1682.4,168.0 1682.4,168.0C1682.4,168.0 1684.3,173.4 1684.6,175.0C1685.6,180.1 1687.8,193.1 1688.5,198.2C1689.5,205.7 1691.5,224.8 1692.4,232.3C1693.1,238.8 1694.8,255.5 1695.8,262.0C1696.1,263.8 1698.0,270.0 1698.0,270.0C1698.0,270.0 1700.2,263.8 1700.5,262.0C1701.3,257.2 1702.4,244.8 1703.0,240.0C1703.6,234.6 1705.4,220.7 1706.0,215.3C1706.6,209.7 1707.8,195.6 1708.5,190.0C1708.8,187.3 1709.6,180.3 1710.5,178.0C1710.8,177.2 1714.0,176.0 1714.0,176.0"/>
</g>
<g fill="none" stroke="#ff0000" stroke-width="6.2" stroke-linejoin="round">
<path transform="translate(-0.5,0)" d="M266.0,151.0C266.0,151.0 269.4,153.1 270.3,153.7C276.7,158.2 293.0,169.6 299.3,174.2C305.0,178.3 318.6,190.0 324.9,193.0C329.0,195.0 340.9,195.8 345.4,196.4C348.8,196.9 357.7,196.7 360.8,198.1C363.0,199.1 367.6,206.6 367.6,206.6C367.6,206.6 370.6,195.2 372.8,193.0C375.0,190.8 383.5,189.1 386.4,187.8C389.5,186.4 396.7,181.7 400.0,181.0C402.6,180.5 410.2,181.3 412.0,182.7C414.2,184.5 417.8,193.2 418.9,196.4C421.9,204.9 428.6,226.9 430.8,235.7C433.5,246.9 438.9,275.6 441.1,286.9C442.7,295.2 446.5,316.2 447.9,324.5C449.9,336.5 454.0,367.2 456.3,379.2C458.4,390.1 465.5,417.4 467.5,428.3C470.2,443.3 475.4,481.7 477.8,496.7C479.6,508.0 484.6,536.7 486.6,548.0C488.5,558.8 493.0,586.3 495.2,597.0C496.5,603.2 500.3,619.0 502.6,624.9C504.0,628.6 509.4,637.2 511.8,640.3C513.0,641.8 516.8,645.3 518.6,645.4C521.9,645.7 530.5,642.1 534.0,642.0C536.7,641.9 543.4,643.6 545.9,644.6C549.1,645.9 556.9,650.2 559.6,652.3C563.0,654.9 569.9,663.3 573.3,665.9C575.6,667.7 582.4,671.1 585.2,671.9C588.5,672.8 597.2,673.7 600.6,673.6C604.8,673.5 615.3,671.9 619.4,671.0C623.2,670.2 632.8,667.1 636.5,665.9C640.3,664.7 650.0,661.7 653.6,660.0C657.2,658.3 665.6,652.6 669.0,650.6C671.2,649.4 676.7,645.7 679.2,645.4C681.1,645.1 686.2,646.8 687.7,648.0C689.7,649.6 693.4,655.1 694.6,657.4C695.9,659.8 697.6,666.6 699.0,669.0C699.4,669.8 702.4,671.1 702.5,671.0C702.7,670.8 706.3,660.6 708.0,658.0C709.3,656.1 713.9,651.8 716.0,651.0C717.6,650.4 722.4,651.3 724.0,652.0C725.6,652.8 729.6,657.6 730.0,657.5C730.7,657.3 737.3,648.3 740.0,646.5C744.0,643.9 755.2,639.4 759.8,638.2C766.2,636.5 783.1,634.3 789.7,633.2C800.7,631.4 828.5,626.9 839.5,625.2C848.3,623.8 870.6,620.5 879.4,619.3C886.4,618.3 905.1,617.8 911.3,615.3C914.1,614.2 919.3,603.3 919.3,603.3C919.3,603.3 922.4,615.8 923.2,619.3C924.1,623.4 927.2,638.2 927.2,638.2C927.2,638.2 930.3,624.6 932.2,621.2C933.1,619.7 938.2,618.7 939.2,617.3C941.6,613.9 947.2,600.3 947.2,600.3C947.2,600.3 953.1,606.3 955.1,606.3C960.1,606.3 973.9,601.9 979.1,600.3C985.8,598.2 1002.4,591.7 1009.0,589.4C1013.6,587.8 1025.4,584.2 1030.0,582.5C1033.8,581.1 1043.4,577.2 1047.1,575.5C1049.7,574.3 1056.3,571.1 1058.7,569.5C1062.9,566.7 1073.3,559.2 1076.9,555.8C1082.3,550.7 1094.9,536.4 1099.7,530.7C1105.0,524.4 1117.9,507.9 1122.5,501.1C1125.4,496.8 1131.5,485.2 1133.9,480.6C1136.5,475.6 1142.9,462.9 1145.3,457.8C1147.9,452.3 1154.0,438.2 1156.7,432.8C1157.8,430.7 1160.9,425.3 1162.4,423.5C1163.2,422.6 1166.1,420.5 1166.9,420.5C1167.8,420.5 1171.3,422.8 1172.0,424.0C1173.7,426.9 1176.3,435.2 1177.2,438.5C1178.5,443.4 1179.8,456.9 1181.7,461.3C1182.3,462.8 1187.1,464.4 1188.6,465.2C1190.6,466.3 1196.6,467.9 1197.7,469.8C1199.9,473.6 1202.2,485.2 1203.0,489.7C1204.2,495.9 1206.0,511.9 1206.8,518.2C1207.6,524.5 1209.4,540.4 1210.0,546.7C1210.6,552.9 1211.6,568.8 1212.0,575.0C1212.5,583.1 1213.3,603.9 1213.8,612.0C1214.4,623.2 1216.1,651.6 1217.0,662.7C1217.8,672.1 1220.4,696.0 1221.3,705.4C1222.2,714.8 1224.4,738.7 1225.6,748.1C1226.3,753.2 1228.3,766.0 1229.8,770.9C1230.2,772.4 1234.0,776.6 1234.1,776.6C1234.2,776.6 1238.9,772.4 1239.8,770.9C1241.8,767.3 1245.4,757.6 1246.9,753.8C1248.8,749.1 1253.4,737.1 1255.5,732.5C1257.2,728.7 1261.4,718.7 1264.0,715.4C1266.2,712.6 1274.5,708.1 1276.8,705.4C1279.6,702.1 1284.7,692.1 1286.8,688.3C1288.8,684.6 1293.1,674.8 1295.3,671.3C1296.2,669.8 1301.0,665.6 1301.0,665.6C1301.0,665.6 1304.6,671.0 1305.3,672.7C1306.5,675.7 1307.7,684.5 1309.6,686.9C1311.0,688.7 1317.2,690.5 1319.5,691.2C1322.6,692.2 1330.6,694.2 1333.8,694.7C1336.9,695.2 1346.5,694.5 1348.0,695.5C1349.1,696.2 1350.3,703.2 1350.8,705.4C1351.5,708.5 1352.7,717.5 1353.7,719.7C1354.0,720.4 1357.6,721.4 1358.0,721.1C1359.2,720.2 1363.6,713.4 1365.1,711.1C1366.5,708.9 1369.9,703.3 1371.0,701.0C1372.6,697.8 1376.3,689.4 1377.5,686.0C1379.6,680.3 1384.3,665.8 1386.0,660.0C1387.9,653.4 1392.4,636.6 1394.0,630.0C1395.3,624.5 1398.5,610.6 1399.3,605.0C1400.1,599.5 1400.7,585.3 1401.3,579.8C1402.0,573.5 1403.6,557.6 1404.9,551.4C1405.1,550.6 1407.7,549.2 1407.7,549.2C1407.7,549.2 1410.2,567.5 1410.6,572.7C1411.3,582.1 1412.2,606.0 1412.7,615.4C1413.1,623.2 1414.1,643.2 1414.8,651.0C1414.9,652.1 1416.3,656.0 1416.3,656.0C1416.3,656.0 1418.1,646.6 1418.4,643.9C1419.4,634.5 1421.1,610.6 1422.0,601.2C1422.7,594.3 1424.2,576.7 1425.5,569.9C1426.0,567.4 1429.8,559.2 1429.8,559.2C1429.8,559.2 1433.6,561.6 1434.1,562.7C1435.5,565.7 1437.7,573.8 1438.3,577.0C1439.3,582.3 1440.6,595.9 1441.2,601.2C1441.7,605.6 1443.3,621.1 1443.3,621.1C1443.3,621.1 1445.1,605.6 1445.5,601.2C1446.0,595.6 1446.6,581.2 1447.6,575.6C1447.8,574.7 1450.4,572.7 1450.4,572.7C1450.4,572.7 1452.9,589.4 1453.3,594.1C1453.9,601.9 1454.6,621.9 1455.0,629.7C1455.4,637.5 1456.3,657.5 1456.8,665.3C1457.3,673.1 1459.0,693.0 1459.7,700.8C1460.3,707.1 1462.0,723.0 1462.7,729.3C1463.3,735.0 1465.5,755.0 1465.5,755.0C1465.5,755.0 1467.3,735.0 1467.7,729.3C1468.2,723.0 1469.3,707.1 1469.8,700.8C1470.3,694.6 1471.3,678.6 1472.0,672.4C1472.7,666.1 1475.2,650.2 1475.8,643.9C1476.8,633.6 1478.9,607.3 1479.6,597.0C1480.3,586.7 1481.2,560.3 1481.8,550.0C1482.2,543.0 1483.3,525.1 1483.9,518.1C1484.3,513.4 1486.1,501.5 1486.7,496.8C1487.4,490.8 1488.8,475.6 1489.6,469.7C1490.1,465.9 1490.7,455.9 1492.4,452.6C1493.4,450.6 1500.2,449.0 1501.0,446.9C1503.1,441.2 1504.1,424.7 1505.2,418.5C1506.2,413.1 1509.2,399.4 1510.3,394.0C1511.4,388.9 1513.7,375.8 1515.2,370.8C1516.4,366.9 1520.4,357.4 1522.3,353.8C1523.0,352.5 1526.2,348.8 1526.6,348.8C1527.1,348.8 1531.8,353.8 1533.7,354.5C1534.9,355.0 1538.8,354.6 1539.4,353.8C1541.0,351.9 1543.4,343.5 1545.1,340.9C1546.3,339.0 1551.4,335.9 1552.2,333.8C1553.7,329.7 1554.3,318.3 1555.1,313.9C1555.9,309.2 1558.3,297.2 1559.4,292.5C1560.5,287.8 1563.5,275.8 1565.0,271.2C1565.7,268.9 1569.3,261.2 1569.3,261.2C1569.3,261.2 1572.4,271.1 1572.9,274.0C1574.0,281.2 1575.7,299.6 1576.4,306.8C1577.1,314.6 1578.7,334.6 1579.3,342.4C1579.9,350.2 1581.5,370.2 1582.1,378.0C1582.5,382.7 1583.3,394.6 1583.6,399.3C1584.3,409.8 1585.8,436.4 1586.4,446.9C1587.0,456.3 1588.6,480.3 1589.2,489.7C1589.8,499.1 1591.3,523.0 1592.1,532.4C1592.9,541.3 1595.5,563.8 1596.4,572.7C1597.7,585.2 1600.7,617.2 1602.1,629.7C1603.5,642.2 1607.4,674.1 1608.7,686.6C1609.5,694.5 1611.4,714.7 1612.0,722.7C1612.7,732.1 1614.3,756.0 1614.9,765.4C1615.4,774.8 1616.5,798.7 1617.0,808.1C1617.5,817.5 1618.6,841.4 1619.1,850.8C1619.6,860.3 1620.9,884.6 1621.4,894.1C1621.8,901.6 1622.6,920.7 1623.1,928.2C1623.6,935.3 1624.6,953.5 1625.6,960.6C1625.8,961.8 1627.4,964.8 1628.2,965.7C1629.1,966.7 1633.0,967.9 1633.3,969.1C1634.8,974.6 1635.7,990.4 1636.7,996.4C1637.6,1002.1 1640.6,1016.4 1641.8,1022.0C1642.3,1024.3 1644.4,1032.2 1644.4,1032.2C1644.4,1032.2 1648.3,1024.4 1648.7,1022.0C1650.2,1012.7 1652.2,988.8 1652.9,979.4C1653.7,968.2 1654.9,939.5 1655.5,928.2C1655.9,920.7 1656.9,901.6 1657.2,894.1C1657.4,888.8 1657.7,875.3 1657.8,870.0C1658.2,846.2 1659.0,785.8 1659.5,762.0C1660.0,736.7 1661.7,672.3 1662.3,647.0C1663.1,613.1 1665.0,526.9 1666.0,493.0C1666.8,467.7 1669.7,403.3 1670.6,378.0C1671.1,364.7 1672.1,330.9 1672.5,317.6C1672.9,306.3 1673.7,277.7 1674.2,266.4C1674.7,255.2 1676.2,226.5 1676.8,215.3C1677.4,204.0 1678.6,175.3 1679.4,164.1C1679.6,161.8 1681.4,153.9 1681.4,153.9C1681.4,153.9 1683.3,161.8 1683.6,164.1C1684.5,171.6 1686.3,190.7 1687.0,198.2C1687.7,205.7 1689.7,224.8 1690.4,232.3C1691.2,241.7 1693.0,265.5 1693.8,274.9C1694.3,280.2 1696.4,298.8 1696.4,298.8C1696.4,298.8 1698.6,286.9 1699.0,283.5C1699.8,276.0 1700.9,256.9 1701.5,249.4C1702.1,241.9 1703.6,222.8 1704.1,215.3C1704.6,207.8 1705.3,188.7 1705.8,181.2C1706.0,177.6 1706.8,166.4 1707.5,165.0C1707.8,164.5 1714.0,164.5 1714.0,164.5"/>
<path transform="translate(0,0)" d="M266.0,151.0C266.0,151.0 269.4,153.1 270.3,153.7C276.7,158.2 293.0,169.6 299.3,174.2C305.0,178.3 318.6,190.0 324.9,193.0C329.0,195.0 340.9,195.8 345.4,196.4C348.8,196.9 357.7,196.7 360.8,198.1C363.0,199.1 367.6,206.6 367.6,206.6C367.6,206.6 370.6,195.2 372.8,193.0C375.0,190.8 383.5,189.1 386.4,187.8C389.5,186.4 396.7,181.7 400.0,181.0C402.6,180.5 410.2,181.3 412.0,182.7C414.2,184.5 417.8,193.2 418.9,196.4C421.9,204.9 428.6,226.9 430.8,235.7C433.5,246.9 438.9,275.6 441.1,286.9C442.7,295.2 446.5,316.2 447.9,324.5C449.9,336.5 454.0,367.2 456.3,379.2C458.4,390.1 465.5,417.4 467.5,428.3C470.2,443.3 475.4,481.7 477.8,496.7C479.6,508.0 484.6,536.7 486.6,548.0C488.5,558.8 493.0,586.3 495.2,597.0C496.5,603.2 500.3,619.0 502.6,624.9C504.0,628.6 509.4,637.2 511.8,640.3C513.0,641.8 516.8,645.3 518.6,645.4C521.9,645.7 530.5,642.1 534.0,642.0C536.7,641.9 543.4,643.6 545.9,644.6C549.1,645.9 556.9,650.2 559.6,652.3C563.0,654.9 569.9,663.3 573.3,665.9C575.6,667.7 582.4,671.1 585.2,671.9C588.5,672.8 597.2,673.7 600.6,673.6C604.8,673.5 615.3,671.9 619.4,671.0C623.2,670.2 632.8,667.1 636.5,665.9C640.3,664.7 650.0,661.7 653.6,660.0C657.2,658.3 665.6,652.6 669.0,650.6C671.2,649.4 676.7,645.7 679.2,645.4C681.1,645.1 686.2,646.8 687.7,648.0C689.7,649.6 693.4,655.1 694.6,657.4C695.9,659.8 697.6,666.6 699.0,669.0C699.4,669.8 702.4,671.1 702.5,671.0C702.7,670.8 706.3,660.6 708.0,658.0C709.3,656.1 713.9,651.8 716.0,651.0C717.6,650.4 722.4,651.3 724.0,652.0C725.6,652.8 729.6,657.6 730.0,657.5C730.7,657.3 737.3,648.3 740.0,646.5C744.0,643.9 755.2,639.4 759.8,638.2C766.2,636.5 783.1,634.3 789.7,633.2C800.7,631.4 828.5,626.9 839.5,625.2C848.3,623.8 870.6,620.5 879.4,619.3C886.4,618.3 905.1,617.8 911.3,615.3C914.1,614.2 919.3,603.3 919.3,603.3C919.3,603.3 922.4,615.8 923.2,619.3C924.1,623.4 927.2,638.2 927.2,638.2C927.2,638.2 930.3,624.6 932.2,621.2C933.1,619.7 938.2,618.7 939.2,617.3C941.6,613.9 947.2,600.3 947.2,600.3C947.2,600.3 953.1,606.3 955.1,606.3C960.1,606.3 973.9,601.9 979.1,600.3C985.8,598.2 1002.4,591.7 1009.0,589.4C1013.6,587.8 1025.4,584.2 1030.0,582.5C1033.8,581.1 1043.4,577.2 1047.1,575.5C1049.7,574.3 1056.3,571.1 1058.7,569.5C1062.9,566.7 1073.3,559.2 1076.9,555.8C1082.3,550.7 1094.9,536.4 1099.7,530.7C1105.0,524.4 1117.9,507.9 1122.5,501.1C1125.4,496.8 1131.5,485.2 1133.9,480.6C1136.5,475.6 1142.9,462.9 1145.3,457.8C1147.9,452.3 1154.0,438.2 1156.7,432.8C1157.8,430.7 1160.9,425.3 1162.4,423.5C1163.2,422.6 1166.1,420.5 1166.9,420.5C1167.8,420.5 1171.3,422.8 1172.0,424.0C1173.7,426.9 1176.3,435.2 1177.2,438.5C1178.5,443.4 1179.8,456.9 1181.7,461.3C1182.3,462.8 1187.1,464.4 1188.6,465.2C1190.6,466.3 1196.6,467.9 1197.7,469.8C1199.9,473.6 1202.2,485.2 1203.0,489.7C1204.2,495.9 1206.0,511.9 1206.8,518.2C1207.6,524.5 1209.4,540.4 1210.0,546.7C1210.6,552.9 1211.6,568.8 1212.0,575.0C1212.5,583.1 1213.3,603.9 1213.8,612.0C1214.4,623.2 1216.1,651.6 1217.0,662.7C1217.8,672.1 1220.4,696.0 1221.3,705.4C1222.2,714.8 1224.4,738.7 1225.6,748.1C1226.3,753.2 1228.3,766.0 1229.8,770.9C1230.2,772.4 1234.0,776.6 1234.1,776.6C1234.2,776.6 1238.9,772.4 1239.8,770.9C1241.8,767.3 1245.4,757.6 1246.9,753.8C1248.8,749.1 1253.4,737.1 1255.5,732.5C1257.2,728.7 1261.4,718.7 1264.0,715.4C1266.2,712.6 1274.5,708.1 1276.8,705.4C1279.6,702.1 1284.7,692.1 1286.8,688.3C1288.8,684.6 1293.1,674.8 1295.3,671.3C1296.2,669.8 1301.0,665.6 1301.0,665.6C1301.0,665.6 1304.6,671.0 1305.3,672.7C1306.5,675.7 1307.7,684.5 1309.6,686.9C1311.0,688.7 1317.2,690.5 1319.5,691.2C1322.6,692.2 1330.6,694.2 1333.8,694.7C1336.9,695.2 1346.5,694.5 1348.0,695.5C1349.1,696.2 1350.3,703.2 1350.8,705.4C1351.5,708.5 1352.7,717.5 1353.7,719.7C1354.0,720.4 1357.6,721.4 1358.0,721.1C1359.2,720.2 1363.6,713.4 1365.1,711.1C1366.5,708.9 1369.9,703.3 1371.0,701.0C1372.6,697.8 1376.3,689.4 1377.5,686.0C1379.6,680.3 1384.3,665.8 1386.0,660.0C1387.9,653.4 1392.4,636.6 1394.0,630.0C1395.3,624.5 1398.5,610.6 1399.3,605.0C1400.1,599.5 1400.7,585.3 1401.3,579.8C1402.0,573.5 1403.6,557.6 1404.9,551.4C1405.1,550.6 1407.7,549.2 1407.7,549.2C1407.7,549.2 1410.2,567.5 1410.6,572.7C1411.3,582.1 1412.2,606.0 1412.7,615.4C1413.1,623.2 1414.1,643.2 1414.8,651.0C1414.9,652.1 1416.3,656.0 1416.3,656.0C1416.3,656.0 1418.1,646.6 1418.4,643.9C1419.4,634.5 1421.1,610.6 1422.0,601.2C1422.7,594.3 1424.2,576.7 1425.5,569.9C1426.0,567.4 1429.8,559.2 1429.8,559.2C1429.8,559.2 1433.6,561.6 1434.1,562.7C1435.5,565.7 1437.7,573.8 1438.3,577.0C1439.3,582.3 1440.6,595.9 1441.2,601.2C1441.7,605.6 1443.3,621.1 1443.3,621.1C1443.3,621.1 1445.1,605.6 1445.5,601.2C1446.0,595.6 1446.6,581.2 1447.6,575.6C1447.8,574.7 1450.4,572.7 1450.4,572.7C1450.4,572.7 1452.9,589.4 1453.3,594.1C1453.9,601.9 1454.6,621.9 1455.0,629.7C1455.4,637.5 1456.3,657.5 1456.8,665.3C1457.3,673.1 1459.0,693.0 1459.7,700.8C1460.3,707.1 1462.0,723.0 1462.7,729.3C1463.3,735.0 1465.5,755.0 1465.5,755.0C1465.5,755.0 1467.3,735.0 1467.7,729.3C1468.2,723.0 1469.3,707.1 1469.8,700.8C1470.3,694.6 1471.3,678.6 1472.0,672.4C1472.7,666.1 1475.2,650.2 1475.8,643.9C1476.8,633.6 1478.9,607.3 1479.6,597.0C1480.3,586.7 1481.2,560.3 1481.8,550.0C1482.2,543.0 1483.3,525.1 1483.9,518.1C1484.3,513.4 1486.1,501.5 1486.7,496.8C1487.4,490.8 1488.8,475.6 1489.6,469.7C1490.1,465.9 1490.7,455.9 1492.4,452.6C1493.4,450.6 1500.2,449.0 1501.0,446.9C1503.1,441.2 1504.1,424.7 1505.2,418.5C1506.2,413.1 1509.2,399.4 1510.3,394.0C1511.4,388.9 1513.7,375.8 1515.2,370.8C1516.4,366.9 1520.4,357.4 1522.3,353.8C1523.0,352.5 1526.2,348.8 1526.6,348.8C1527.1,348.8 1531.8,353.8 1533.7,354.5C1534.9,355.0 1538.8,354.6 1539.4,353.8C1541.0,351.9 1543.4,343.5 1545.1,340.9C1546.3,339.0 1551.4,335.9 1552.2,333.8C1553.7,329.7 1554.3,318.3 1555.1,313.9C1555.9,309.2 1558.3,297.2 1559.4,292.5C1560.5,287.8 1563.5,275.8 1565.0,271.2C1565.7,268.9 1569.3,261.2 1569.3,261.2C1569.3,261.2 1572.4,271.1 1572.9,274.0C1574.0,281.2 1575.7,299.6 1576.4,306.8C1577.1,314.6 1578.7,334.6 1579.3,342.4C1579.9,350.2 1581.5,370.2 1582.1,378.0C1582.5,382.7 1583.3,394.6 1583.6,399.3C1584.3,409.8 1585.8,436.4 1586.4,446.9C1587.0,456.3 1588.6,480.3 1589.2,489.7C1589.8,499.1 1591.3,523.0 1592.1,532.4C1592.9,541.3 1595.5,563.8 1596.4,572.7C1597.7,585.2 1600.7,617.2 1602.1,629.7C1603.5,642.2 1607.4,674.1 1608.7,686.6C1609.5,694.5 1611.4,714.7 1612.0,722.7C1612.7,732.1 1614.3,756.0 1614.9,765.4C1615.4,774.8 1616.5,798.7 1617.0,808.1C1617.5,817.5 1618.6,841.4 1619.1,850.8C1619.6,860.3 1620.9,884.6 1621.4,894.1C1621.8,901.6 1622.6,920.7 1623.1,928.2C1623.6,935.3 1624.6,953.5 1625.6,960.6C1625.8,961.8 1627.4,964.8 1628.2,965.7C1629.1,966.7 1633.0,967.9 1633.3,969.1C1634.8,974.6 1635.7,990.4 1636.7,996.4C1637.6,1002.1 1640.6,1016.4 1641.8,1022.0C1642.3,1024.3 1644.4,1032.2 1644.4,1032.2C1644.4,1032.2 1648.3,1024.4 1648.7,1022.0C1650.2,1012.7 1652.2,988.8 1652.9,979.4C1653.7,968.2 1654.9,939.5 1655.5,928.2C1655.9,920.7 1656.9,901.6 1657.2,894.1C1657.4,888.8 1657.7,875.3 1657.8,870.0C1658.2,846.2 1659.0,785.8 1659.5,762.0C1660.0,736.7 1661.7,672.3 1662.3,647.0C1663.1,613.1 1665.0,526.9 1666.0,493.0C1666.8,467.7 1669.7,403.3 1670.6,378.0C1671.1,364.7 1672.1,330.9 1672.5,317.6C1672.9,306.3 1673.7,277.7 1674.2,266.4C1674.7,255.2 1676.2,226.5 1676.8,215.3C1677.4,204.0 1678.6,175.3 1679.4,164.1C1679.6,161.8 1681.4,153.9 1681.4,153.9C1681.4,153.9 1683.3,161.8 1683.6,164.1C1684.5,171.6 1686.3,190.7 1687.0,198.2C1687.7,205.7 1689.7,224.8 1690.4,232.3C1691.2,241.7 1693.0,265.5 1693.8,274.9C1694.3,280.2 1696.4,298.8 1696.4,298.8C1696.4,298.8 1698.6,286.9 1699.0,283.5C1699.8,276.0 1700.9,256.9 1701.5,249.4C1702.1,241.9 1703.6,222.8 1704.1,215.3C1704.6,207.8 1705.3,188.7 1705.8,181.2C1706.0,177.6 1706.8,166.4 1707.5,165.0C1707.8,164.5 1714.0,164.5 1714.0,164.5"/>
<path transform="translate(0.5,0)" d="M266.0,151.0C266.0,151.0 269.4,153.1 270.3,153.7C276.7,158.2 293.0,169.6 299.3,174.2C305.0,178.3 318.6,190.0 324.9,193.0C329.0,195.0 340.9,195.8 345.4,196.4C348.8,196.9 357.7,196.7 360.8,198.1C363.0,199.1 367.6,206.6 367.6,206.6C367.6,206.6 370.6,195.2 372.8,193.0C375.0,190.8 383.5,189.1 386.4,187.8C389.5,186.4 396.7,181.7 400.0,181.0C402.6,180.5 410.2,181.3 412.0,182.7C414.2,184.5 417.8,193.2 418.9,196.4C421.9,204.9 428.6,226.9 430.8,235.7C433.5,246.9 438.9,275.6 441.1,286.9C442.7,295.2 446.5,316.2 447.9,324.5C449.9,336.5 454.0,367.2 456.3,379.2C458.4,390.1 465.5,417.4 467.5,428.3C470.2,443.3 475.4,481.7 477.8,496.7C479.6,508.0 484.6,536.7 486.6,548.0C488.5,558.8 493.0,586.3 495.2,597.0C496.5,603.2 500.3,619.0 502.6,624.9C504.0,628.6 509.4,637.2 511.8,640.3C513.0,641.8 516.8,645.3 518.6,645.4C521.9,645.7 530.5,642.1 534.0,642.0C536.7,641.9 543.4,643.6 545.9,644.6C549.1,645.9 556.9,650.2 559.6,652.3C563.0,654.9 569.9,663.3 573.3,665.9C575.6,667.7 582.4,671.1 585.2,671.9C588.5,672.8 597.2,673.7 600.6,673.6C604.8,673.5 615.3,671.9 619.4,671.0C623.2,670.2 632.8,667.1 636.5,665.9C640.3,664.7 650.0,661.7 653.6,660.0C657.2,658.3 665.6,652.6 669.0,650.6C671.2,649.4 676.7,645.7 679.2,645.4C681.1,645.1 686.2,646.8 687.7,648.0C689.7,649.6 693.4,655.1 694.6,657.4C695.9,659.8 697.6,666.6 699.0,669.0C699.4,669.8 702.4,671.1 702.5,671.0C702.7,670.8 706.3,660.6 708.0,658.0C709.3,656.1 713.9,651.8 716.0,651.0C717.6,650.4 722.4,651.3 724.0,652.0C725.6,652.8 729.6,657.6 730.0,657.5C730.7,657.3 737.3,648.3 740.0,646.5C744.0,643.9 755.2,639.4 759.8,638.2C766.2,636.5 783.1,634.3 789.7,633.2C800.7,631.4 828.5,626.9 839.5,625.2C848.3,623.8 870.6,620.5 879.4,619.3C886.4,618.3 905.1,617.8 911.3,615.3C914.1,614.2 919.3,603.3 919.3,603.3C919.3,603.3 922.4,615.8 923.2,619.3C924.1,623.4 927.2,638.2 927.2,638.2C927.2,638.2 930.3,624.6 932.2,621.2C933.1,619.7 938.2,618.7 939.2,617.3C941.6,613.9 947.2,600.3 947.2,600.3C947.2,600.3 953.1,606.3 955.1,606.3C960.1,606.3 973.9,601.9 979.1,600.3C985.8,598.2 1002.4,591.7 1009.0,589.4C1013.6,587.8 1025.4,584.2 1030.0,582.5C1033.8,581.1 1043.4,577.2 1047.1,575.5C1049.7,574.3 1056.3,571.1 1058.7,569.5C1062.9,566.7 1073.3,559.2 1076.9,555.8C1082.3,550.7 1094.9,536.4 1099.7,530.7C1105.0,524.4 1117.9,507.9 1122.5,501.1C1125.4,496.8 1131.5,485.2 1133.9,480.6C1136.5,475.6 1142.9,462.9 1145.3,457.8C1147.9,452.3 1154.0,438.2 1156.7,432.8C1157.8,430.7 1160.9,425.3 1162.4,423.5C1163.2,422.6 1166.1,420.5 1166.9,420.5C1167.8,420.5 1171.3,422.8 1172.0,424.0C1173.7,426.9 1176.3,435.2 1177.2,438.5C1178.5,443.4 1179.8,456.9 1181.7,461.3C1182.3,462.8 1187.1,464.4 1188.6,465.2C1190.6,466.3 1196.6,467.9 1197.7,469.8C1199.9,473.6 1202.2,485.2 1203.0,489.7C1204.2,495.9 1206.0,511.9 1206.8,518.2C1207.6,524.5 1209.4,540.4 1210.0,546.7C1210.6,552.9 1211.6,568.8 1212.0,575.0C1212.5,583.1 1213.3,603.9 1213.8,612.0C1214.4,623.2 1216.1,651.6 1217.0,662.7C1217.8,672.1 1220.4,696.0 1221.3,705.4C1222.2,714.8 1224.4,738.7 1225.6,748.1C1226.3,753.2 1228.3,766.0 1229.8,770.9C1230.2,772.4 1234.0,776.6 1234.1,776.6C1234.2,776.6 1238.9,772.4 1239.8,770.9C1241.8,767.3 1245.4,757.6 1246.9,753.8C1248.8,749.1 1253.4,737.1 1255.5,732.5C1257.2,728.7 1261.4,718.7 1264.0,715.4C1266.2,712.6 1274.5,708.1 1276.8,705.4C1279.6,702.1 1284.7,692.1 1286.8,688.3C1288.8,684.6 1293.1,674.8 1295.3,671.3C1296.2,669.8 1301.0,665.6 1301.0,665.6C1301.0,665.6 1304.6,671.0 1305.3,672.7C1306.5,675.7 1307.7,684.5 1309.6,686.9C1311.0,688.7 1317.2,690.5 1319.5,691.2C1322.6,692.2 1330.6,694.2 1333.8,694.7C1336.9,695.2 1346.5,694.5 1348.0,695.5C1349.1,696.2 1350.3,703.2 1350.8,705.4C1351.5,708.5 1352.7,717.5 1353.7,719.7C1354.0,720.4 1357.6,721.4 1358.0,721.1C1359.2,720.2 1363.6,713.4 1365.1,711.1C1366.5,708.9 1369.9,703.3 1371.0,701.0C1372.6,697.8 1376.3,689.4 1377.5,686.0C1379.6,680.3 1384.3,665.8 1386.0,660.0C1387.9,653.4 1392.4,636.6 1394.0,630.0C1395.3,624.5 1398.5,610.6 1399.3,605.0C1400.1,599.5 1400.7,585.3 1401.3,579.8C1402.0,573.5 1403.6,557.6 1404.9,551.4C1405.1,550.6 1407.7,549.2 1407.7,549.2C1407.7,549.2 1410.2,567.5 1410.6,572.7C1411.3,582.1 1412.2,606.0 1412.7,615.4C1413.1,623.2 1414.1,643.2 1414.8,651.0C1414.9,652.1 1416.3,656.0 1416.3,656.0C1416.3,656.0 1418.1,646.6 1418.4,643.9C1419.4,634.5 1421.1,610.6 1422.0,601.2C1422.7,594.3 1424.2,576.7 1425.5,569.9C1426.0,567.4 1429.8,559.2 1429.8,559.2C1429.8,559.2 1433.6,561.6 1434.1,562.7C1435.5,565.7 1437.7,573.8 1438.3,577.0C1439.3,582.3 1440.6,595.9 1441.2,601.2C1441.7,605.6 1443.3,621.1 1443.3,621.1C1443.3,621.1 1445.1,605.6 1445.5,601.2C1446.0,595.6 1446.6,581.2 1447.6,575.6C1447.8,574.7 1450.4,572.7 1450.4,572.7C1450.4,572.7 1452.9,589.4 1453.3,594.1C1453.9,601.9 1454.6,621.9 1455.0,629.7C1455.4,637.5 1456.3,657.5 1456.8,665.3C1457.3,673.1 1459.0,693.0 1459.7,700.8C1460.3,707.1 1462.0,723.0 1462.7,729.3C1463.3,735.0 1465.5,755.0 1465.5,755.0C1465.5,755.0 1467.3,735.0 1467.7,729.3C1468.2,723.0 1469.3,707.1 1469.8,700.8C1470.3,694.6 1471.3,678.6 1472.0,672.4C1472.7,666.1 1475.2,650.2 1475.8,643.9C1476.8,633.6 1478.9,607.3 1479.6,597.0C1480.3,586.7 1481.2,560.3 1481.8,550.0C1482.2,543.0 1483.3,525.1 1483.9,518.1C1484.3,513.4 1486.1,501.5 1486.7,496.8C1487.4,490.8 1488.8,475.6 1489.6,469.7C1490.1,465.9 1490.7,455.9 1492.4,452.6C1493.4,450.6 1500.2,449.0 1501.0,446.9C1503.1,441.2 1504.1,424.7 1505.2,418.5C1506.2,413.1 1509.2,399.4 1510.3,394.0C1511.4,388.9 1513.7,375.8 1515.2,370.8C1516.4,366.9 1520.4,357.4 1522.3,353.8C1523.0,352.5 1526.2,348.8 1526.6,348.8C1527.1,348.8 1531.8,353.8 1533.7,354.5C1534.9,355.0 1538.8,354.6 1539.4,353.8C1541.0,351.9 1543.4,343.5 1545.1,340.9C1546.3,339.0 1551.4,335.9 1552.2,333.8C1553.7,329.7 1554.3,318.3 1555.1,313.9C1555.9,309.2 1558.3,297.2 1559.4,292.5C1560.5,287.8 1563.5,275.8 1565.0,271.2C1565.7,268.9 1569.3,261.2 1569.3,261.2C1569.3,261.2 1572.4,271.1 1572.9,274.0C1574.0,281.2 1575.7,299.6 1576.4,306.8C1577.1,314.6 1578.7,334.6 1579.3,342.4C1579.9,350.2 1581.5,370.2 1582.1,378.0C1582.5,382.7 1583.3,394.6 1583.6,399.3C1584.3,409.8 1585.8,436.4 1586.4,446.9C1587.0,456.3 1588.6,480.3 1589.2,489.7C1589.8,499.1 1591.3,523.0 1592.1,532.4C1592.9,541.3 1595.5,563.8 1596.4,572.7C1597.7,585.2 1600.7,617.2 1602.1,629.7C1603.5,642.2 1607.4,674.1 1608.7,686.6C1609.5,694.5 1611.4,714.7 1612.0,722.7C1612.7,732.1 1614.3,756.0 1614.9,765.4C1615.4,774.8 1616.5,798.7 1617.0,808.1C1617.5,817.5 1618.6,841.4 1619.1,850.8C1619.6,860.3 1620.9,884.6 1621.4,894.1C1621.8,901.6 1622.6,920.7 1623.1,928.2C1623.6,935.3 1624.6,953.5 1625.6,960.6C1625.8,961.8 1627.4,964.8 1628.2,965.7C1629.1,966.7 1633.0,967.9 1633.3,969.1C1634.8,974.6 1635.7,990.4 1636.7,996.4C1637.6,1002.1 1640.6,1016.4 1641.8,1022.0C1642.3,1024.3 1644.4,1032.2 1644.4,1032.2C1644.4,1032.2 1648.3,1024.4 1648.7,1022.0C1650.2,1012.7 1652.2,988.8 1652.9,979.4C1653.7,968.2 1654.9,939.5 1655.5,928.2C1655.9,920.7 1656.9,901.6 1657.2,894.1C1657.4,888.8 1657.7,875.3 1657.8,870.0C1658.2,846.2 1659.0,785.8 1659.5,762.0C1660.0,736.7 1661.7,672.3 1662.3,647.0C1663.1,613.1 1665.0,526.9 1666.0,493.0C1666.8,467.7 1669.7,403.3 1670.6,378.0C1671.1,364.7 1672.1,330.9 1672.5,317.6C1672.9,306.3 1673.7,277.7 1674.2,266.4C1674.7,255.2 1676.2,226.5 1676.8,215.3C1677.4,204.0 1678.6,175.3 1679.4,164.1C1679.6,161.8 1681.4,153.9 1681.4,153.9C1681.4,153.9 1683.3,161.8 1683.6,164.1C1684.5,171.6 1686.3,190.7 1687.0,198.2C1687.7,205.7 1689.7,224.8 1690.4,232.3C1691.2,241.7 1693.0,265.5 1693.8,274.9C1694.3,280.2 1696.4,298.8 1696.4,298.8C1696.4,298.8 1698.6,286.9 1699.0,283.5C1699.8,276.0 1700.9,256.9 1701.5,249.4C1702.1,241.9 1703.6,222.8 1704.1,215.3C1704.6,207.8 1705.3,188.7 1705.8,181.2C1706.0,177.6 1706.8,166.4 1707.5,165.0C1707.8,164.5 1714.0,164.5 1714.0,164.5"/>
</g>
<g fill="#000">
<rect x="262.3" y="56.9" width="9.2" height="1140.6"/>
<rect x="262.3" y="56.9" width="1458" height="7.6"/>
<rect x="1712.9" y="56.9" width="7.4" height="1118.9"/>
<rect x="262.3" y="1168.2" width="1458" height="7.6"/>
</g>
<text class="tk" transform="translate(244.3,79.6) scale(1,1.03)" text-anchor="end">1.1</text>
<text class="tk" transform="translate(244.3,202.9) scale(1,1.03)" text-anchor="end">1.0</text>
<text class="tk" transform="translate(244.3,326.3) scale(1,1.03)" text-anchor="end">0.9</text>
<text class="tk" transform="translate(244.3,449.6) scale(1,1.03)" text-anchor="end">0.8</text>
<text class="tk" transform="translate(244.3,572.9) scale(1,1.03)" text-anchor="end">0.7</text>
<text class="tk" transform="translate(244.3,696.2) scale(1,1.03)" text-anchor="end">0.6</text>
<text class="tk" transform="translate(244.3,819.6) scale(1,1.03)" text-anchor="end">0.5</text>
<text class="tk" transform="translate(244.3,942.9) scale(1,1.03)" text-anchor="end">0.4</text>
<text class="tk" transform="translate(244.3,1066.2) scale(1,1.03)" text-anchor="end">0.3</text>
<text class="tk" transform="translate(244.3,1189.6) scale(1,1.03)" text-anchor="end">0.2</text>
<text class="tk" transform="translate(267.3,1258.4) scale(1,1.03)" text-anchor="middle">4000</text>
<text class="tk" transform="translate(468.7,1258.4) scale(1,1.03)" text-anchor="middle">3500</text>
<text class="tk" transform="translate(670.1,1258.4) scale(1,1.03)" text-anchor="middle">3000</text>
<text class="tk" transform="translate(871.6,1258.4) scale(1,1.03)" text-anchor="middle">2500</text>
<text class="tk" transform="translate(1073.0,1258.4) scale(1,1.03)" text-anchor="middle">2000</text>
<text class="tk" transform="translate(1274.4,1258.4) scale(1,1.03)" text-anchor="middle">1500</text>
<text class="tk" transform="translate(1475.8,1258.4) scale(1,1.03)" text-anchor="middle">1000</text>
<text class="tk" transform="translate(1677.3,1258.4) scale(1,1.03)" text-anchor="middle">500</text>
<text class="ttl" transform="translate(110.8,884.5) rotate(-90)">Transmittance</text>
<text class="ttl" x="630.5" y="1382">Wavenumber (cm<tspan font-size="50px" dy="-45.5">-1</tspan><tspan dy="45.5">)</tspan></text>
<rect x="338" y="952" width="119.4" height="8.3" fill="#000"/>
<rect x="340" y="1037.8" width="117.4" height="8.3" fill="#ff0000"/>
<text class="lg" y="978.2"><tspan x="482.8" textLength="49" lengthAdjust="spacingAndGlyphs">Fe</tspan><tspan x="538.3" dy="9.5" font-size="35px" textLength="13.5" lengthAdjust="spacingAndGlyphs">3</tspan><tspan x="558" dy="-9.5" textLength="37.5" lengthAdjust="spacingAndGlyphs">O</tspan><tspan x="598" dy="9.5" font-size="35px" textLength="15" lengthAdjust="spacingAndGlyphs">4</tspan><tspan x="621" dy="-9.5" textLength="146" lengthAdjust="spacingAndGlyphs">@PDA</tspan></text>
<text class="lg" y="1062.6"><tspan x="482.8" textLength="49" lengthAdjust="spacingAndGlyphs">Fe</tspan><tspan x="538.3" dy="9.5" font-size="35px" textLength="13.5" lengthAdjust="spacingAndGlyphs">3</tspan><tspan x="558" dy="-9.5" textLength="37.5" lengthAdjust="spacingAndGlyphs">O</tspan><tspan x="598" dy="9.5" font-size="35px" textLength="15" lengthAdjust="spacingAndGlyphs">4</tspan><tspan x="621" dy="-9.5" textLength="376.5" lengthAdjust="spacingAndGlyphs">@PDA@SH-βCD</tspan></text>
<text class="ann" x="617" y="263.5" textLength="149" lengthAdjust="spacingAndGlyphs">PDA</text>
<text class="ann" x="1233" y="1087" textLength="266" lengthAdjust="spacingAndGlyphs">SH-βCD</text>
<line x1="727.3" y1="292.3" x2="814.2" y2="401.7" stroke="#000" stroke-width="5.6"/><polygon points="853.4,451.0 801.5,411.8 826.9,391.6" fill="#000"/>
<line x1="1295.0" y1="977.5" x2="1373.4" y2="768.5" stroke="#000" stroke-width="6.0"/><polygon points="1395.5,709.5 1388.4,774.1 1358.4,762.9" fill="#000"/>
<line x1="1438.7" y1="997.3" x2="1438.7" y2="752.5" stroke="#000" stroke-width="6.4"/><polygon points="1438.7,688.5 1454.5,752.5 1423.0,752.5" fill="#000"/>
</svg>
</body></html>
